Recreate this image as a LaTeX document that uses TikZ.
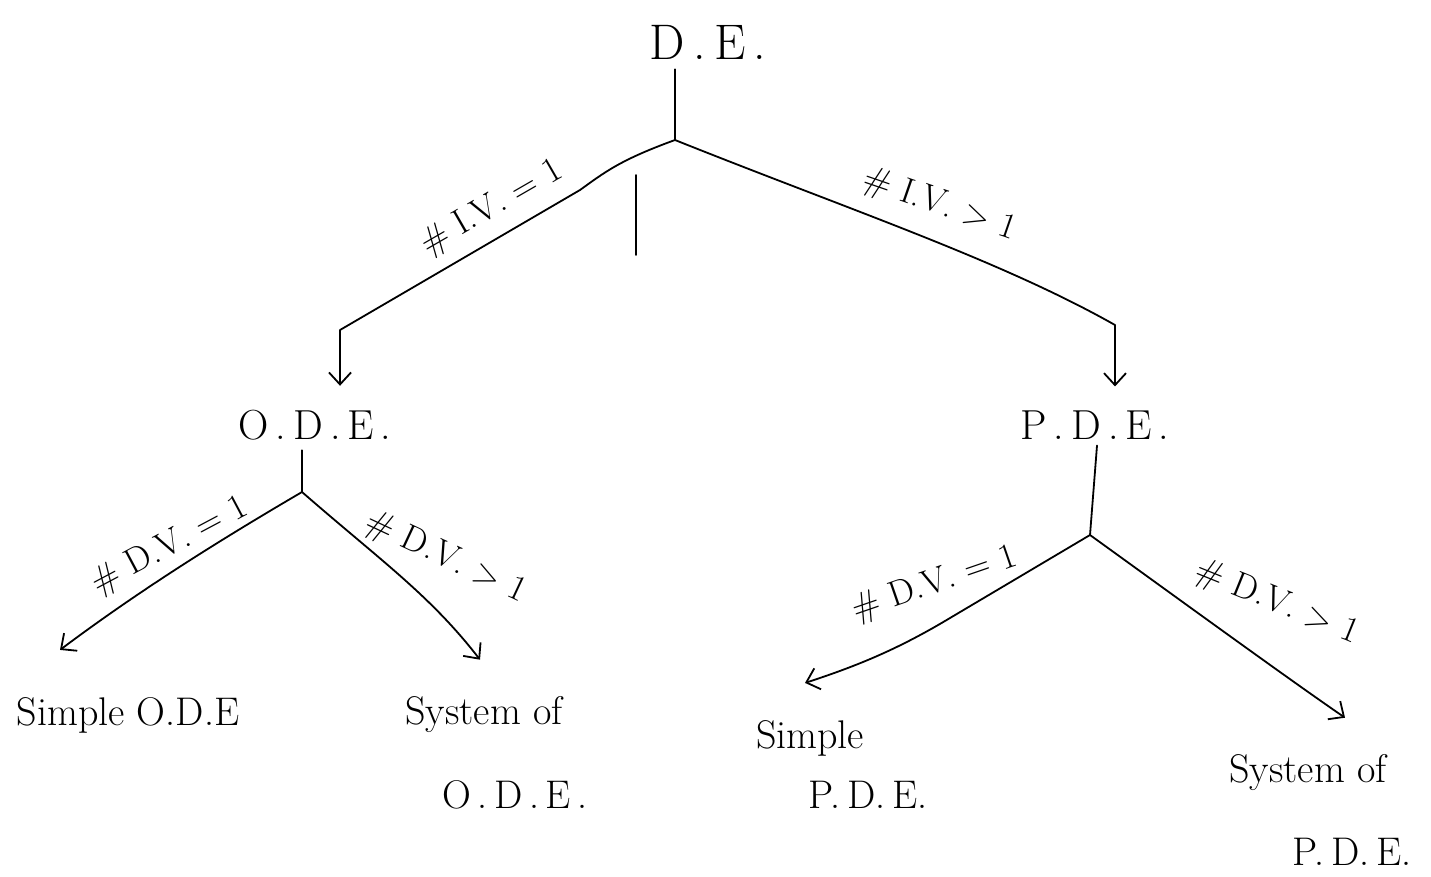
\documentclass[tikz,border=0pt]{standalone}
\usetikzlibrary{arrows.meta,calc}
\begin{document}
\begin{tikzpicture}[x=1pt,y=-1pt,
  conn/.style={line width=1.8pt,line cap=round,line join=round},
  arr/.style={conn,-{Straight Barb[length=12pt,width=22pt,line width=1.8pt]}},
  big/.style={font=\fontsize{50}{54}\selectfont,inner sep=2pt},
  mid/.style={font=\fontsize{42}{46}\selectfont,inner sep=2pt},
  leaf/.style={font=\fontsize{40}{44}\selectfont,inner sep=2pt,align=center},
  lbl/.style={font=\fontsize{36}{40}\selectfont,inner sep=1pt}]
\useasboundingbox (0,0) rectangle (1431,876);
% nodes
\node[big] (de) at (708,42) {D\,.\,E\,.};
\node[mid] (ode) at (315,425) {O\,.\,D\,.\,E\,.};
\node[mid] (pde) at (1095,425) {P\,.\,D\,.\,E\,.};
\node[leaf] (sode) at (128,715) {Simple O.D.E};
\node[leaf] (syode1) at (484,715) {System of};
\node[leaf] (syode2) at (515,795) {O\,.\,D\,.\,E\,.};
\node[leaf] (spde1) at (810,738) {Simple};
\node[leaf] (spde2) at (868,795) {P.\,D.\,E.};
\node[leaf] (sypde1) at (1308,773) {System of};
\node[leaf] (sypde2) at (1352,852) {P.\,D.\,E.};
% junctions
\coordinate (j0) at (675,140);
\coordinate (jl) at (340,330);
\coordinate (jr) at (1115,325);
\coordinate (j1) at (302,492);
\coordinate (j2) at (1090,535);
\coordinate (stA) at (636,175);
\coordinate (stB) at (636,255);
% top level
\draw[conn] (j0 |- de.south) ++(0,8) -- (j0);
\draw[arr] (j0) .. controls (620,160) and (605,172) .. (580,190) -- (jl) -- ($(jl |- ode.north)+(0,-22)$);
\draw[arr] (j0) .. controls (850,210) and (1000,260) .. (jr) -- ($(jr |- pde.north)+(0,-22)$);
\draw[conn] (stA) -- (stB);
\node[lbl,rotate=30] (l1) at (492,208) {\# I.V. = 1};
\node[lbl,rotate=-19] (l2) at (940,205) {\# I.V. > 1};
% ODE level
\draw[conn] ($(ode.south)+(-13,8)$) -- (j1);
\draw[arr] (j1) .. controls (220,540) and (140,590) .. ($(sode.north)+(-68,-45)$);
\draw[arr] (j1) .. controls (380,560) and (430,595) .. ($(syode1.north)+(-4,-35)$);
\node[lbl,rotate=28] (l3) at (170,546) {\# D.V. = 1};
\node[lbl,rotate=-25] (l4) at (446,558) {\# D.V. > 1};
% PDE level
\draw[conn] ($(pde.south)+(2,4)$) -- (j2);
\draw[arr] (j2) -- (950,618) .. controls (900,648) and (860,665) .. ($(spde1.north)+(-5,-35)$);
\draw[arr] (j2) .. controls (1180,600) and (1290,680) .. ($(sypde1.north)+(37,-35)$);
\node[lbl,rotate=19] (l5) at (935,584) {\# D.V. = 1};
\node[lbl,rotate=-22] (l6) at (1277,603) {\# D.V. > 1};
\end{tikzpicture}
\end{document}
